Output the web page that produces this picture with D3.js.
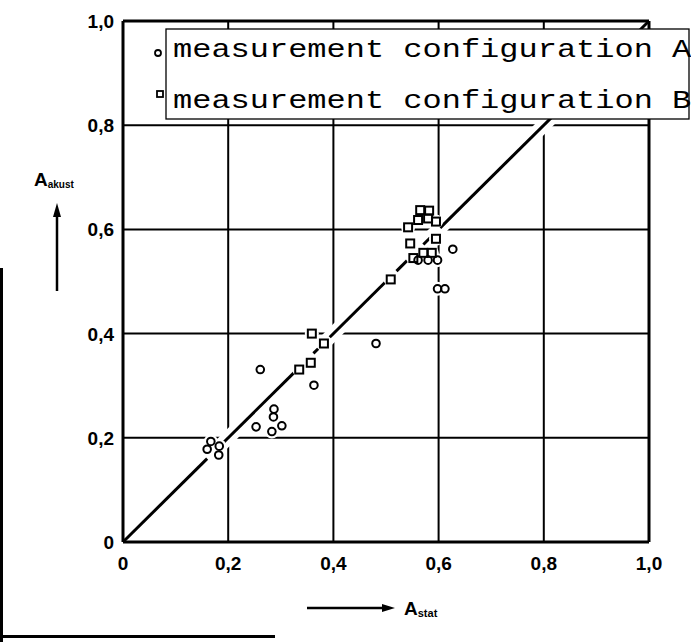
<html>
  <head>
    <script src="https://d3js.org/d3.v7.min.js"></script>
    <style>
      body { margin: 0; background: white; }
      .tick-label { font-family: 'Liberation Sans', Arial, sans-serif; font-weight: bold; font-size: 19px; }
      .axis-title { font-family: 'Liberation Sans', Arial, sans-serif; font-weight: bold; }
      .legend-text { font-family: 'Liberation Mono', 'DejaVu Sans Mono', monospace; font-size: 32px; }
    </style>
  </head>
  <body>
    <svg id="chart" width="691" height="642"></svg>
    <script>
      // values
      var ticks = [0, 0.2, 0.4, 0.6, 0.8, 1.0];
      var tickLabels = ['0', '0,2', '0,4', '0,6', '0,8', '1,0'];

      var configA = [
        [0.160, 0.178], [0.167, 0.193], [0.182, 0.167], [0.183, 0.184],
        [0.253, 0.221], [0.283, 0.212], [0.286, 0.240], [0.287, 0.255], [0.302, 0.223],
        [0.261, 0.331], [0.363, 0.301], [0.481, 0.381],
        [0.561, 0.541], [0.580, 0.541], [0.598, 0.541], [0.627, 0.562],
        [0.598, 0.486], [0.612, 0.486]
      ];
      var configB = [
        [0.335, 0.331], [0.357, 0.344], [0.382, 0.381], [0.359, 0.400],
        [0.509, 0.504], [0.552, 0.545], [0.571, 0.555], [0.587, 0.555],
        [0.546, 0.573], [0.595, 0.582], [0.542, 0.604], [0.561, 0.618],
        [0.580, 0.621], [0.595, 0.615], [0.565, 0.637], [0.582, 0.636]
      ];
      // the y = x line, drawn in pieces with the gaps of the original
      var diagonal = [[0, 0.16], [0.192, 0.33], [0.362, 0.371], [0.393, 0.498], [0.52, 0.54], [0.571, 0.584], [0.603, 1.0]];
      var legendItems = ['measurement configuration A', 'measurement configuration B'];

      var svg = d3.select('#chart');
      var x = d3.scaleLinear().domain([0, 1]).range([123, 649]);
      var y = d3.scaleLinear().domain([0, 1]).range([542, 21]);

      // grid
      var grid = svg.append('g').attr('stroke', 'black');
      grid.selectAll('.vg').data(ticks).enter().append('line')
        .attr('x1', d => x(d)).attr('x2', d => x(d))
        .attr('y1', y(0)).attr('y2', y(1))
        .attr('stroke-width', d => (d === 0 || d === 1) ? 3 : 2);
      grid.selectAll('.hg').data(ticks).enter().append('line')
        .attr('y1', d => y(d)).attr('y2', d => y(d))
        .attr('x1', x(0)).attr('x2', x(1))
        .attr('stroke-width', d => (d === 0 || d === 1) ? 3 : 2);

      // white casing so the grid breaks where the diagonal crosses it
      svg.append('line')
        .attr('x1', x(0.03)).attr('y1', y(0.03)).attr('x2', x(0.97)).attr('y2', y(0.97))
        .attr('stroke', 'white').attr('stroke-width', 14);

      svg.append('g').selectAll('line').data(diagonal).enter().append('line')
        .attr('x1', d => x(d[0])).attr('y1', d => y(d[0]))
        .attr('x2', d => x(d[1])).attr('y2', d => y(d[1]))
        .attr('stroke', 'black').attr('stroke-width', 3);

      // halos under the markers
      var halo = svg.append('g').attr('fill', 'white');
      halo.selectAll('circle').data(configA.concat(configB)).enter().append('circle')
        .attr('cx', d => x(d[0])).attr('cy', d => y(d[1])).attr('r', 7);

      var marks = svg.append('g').attr('fill', 'none').attr('stroke', 'black').attr('stroke-width', 2);
      marks.selectAll('circle').data(configA).enter().append('circle')
        .attr('cx', d => x(d[0])).attr('cy', d => y(d[1])).attr('r', 3.8);
      marks.selectAll('rect').data(configB).enter().append('rect')
        .attr('x', d => x(d[0]) - 4).attr('y', d => y(d[1]) - 4)
        .attr('width', 8).attr('height', 8);

      // tick labels
      svg.append('g').selectAll('text').data(ticks).enter().append('text')
        .attr('class', 'tick-label')
        .attr('x', d => x(d)).attr('y', 570)
        .attr('text-anchor', 'middle')
        .text((d, i) => tickLabels[i]);
      svg.append('g').selectAll('text').data(ticks).enter().append('text')
        .attr('class', 'tick-label')
        .attr('x', 114).attr('y', d => y(d) + 7)
        .attr('text-anchor', 'end')
        .text((d, i) => tickLabels[i]);

      // legend
      var legend = svg.append('g');
      legend.append('rect')
        .attr('x', 166).attr('y', 29).attr('width', 523).attr('height', 90)
        .attr('fill', 'white').attr('stroke', 'black').attr('stroke-width', 1.3);
      legend.selectAll('text').data(legendItems).enter().append('text')
        .attr('class', 'legend-text')
        .attr('transform', (d, i) => 'translate(173,' + (57 + i * 51) + ') scale(1,0.82)')
        .text(d => d);
      legend.append('circle').attr('cx', 158).attr('cy', 53).attr('r', 3)
        .attr('fill', 'none').attr('stroke', 'black').attr('stroke-width', 1.8);
      legend.append('rect').attr('x', 157).attr('y', 91).attr('width', 6).attr('height', 6)
        .attr('fill', 'none').attr('stroke', 'black').attr('stroke-width', 1.8);

      // axis titles with arrows
      var yt = svg.append('text').attr('class', 'axis-title').attr('x', 34).attr('y', 186);
      yt.append('tspan').attr('font-size', 19).text('A');
      yt.append('tspan').attr('font-size', 10).attr('dy', 2).text('akust');
      svg.append('line').attr('x1', 57).attr('x2', 57).attr('y1', 291).attr('y2', 212)
        .attr('stroke', 'black').attr('stroke-width', 2.5);
      svg.append('path').attr('d', 'M57,203 L53,217 L61,217 Z').attr('fill', 'black');

      var xt = svg.append('text').attr('class', 'axis-title').attr('x', 404).attr('y', 615);
      xt.append('tspan').attr('font-size', 19).text('A');
      xt.append('tspan').attr('font-size', 11).attr('dy', 2).text('stat');
      svg.append('line').attr('x1', 307).attr('x2', 386).attr('y1', 608).attr('y2', 608)
        .attr('stroke', 'black').attr('stroke-width', 2.5);
      svg.append('path').attr('d', 'M395,608 L382,604 L382,612 Z').attr('fill', 'black');

      // edge marks of the scan
      svg.append('rect').attr('x', 0).attr('y', 268).attr('width', 3).attr('height', 374).attr('fill', 'black');
      svg.append('rect').attr('x', 0).attr('y', 635).attr('width', 275).attr('height', 3).attr('fill', 'black');
    </script>
  </body>
</html>
